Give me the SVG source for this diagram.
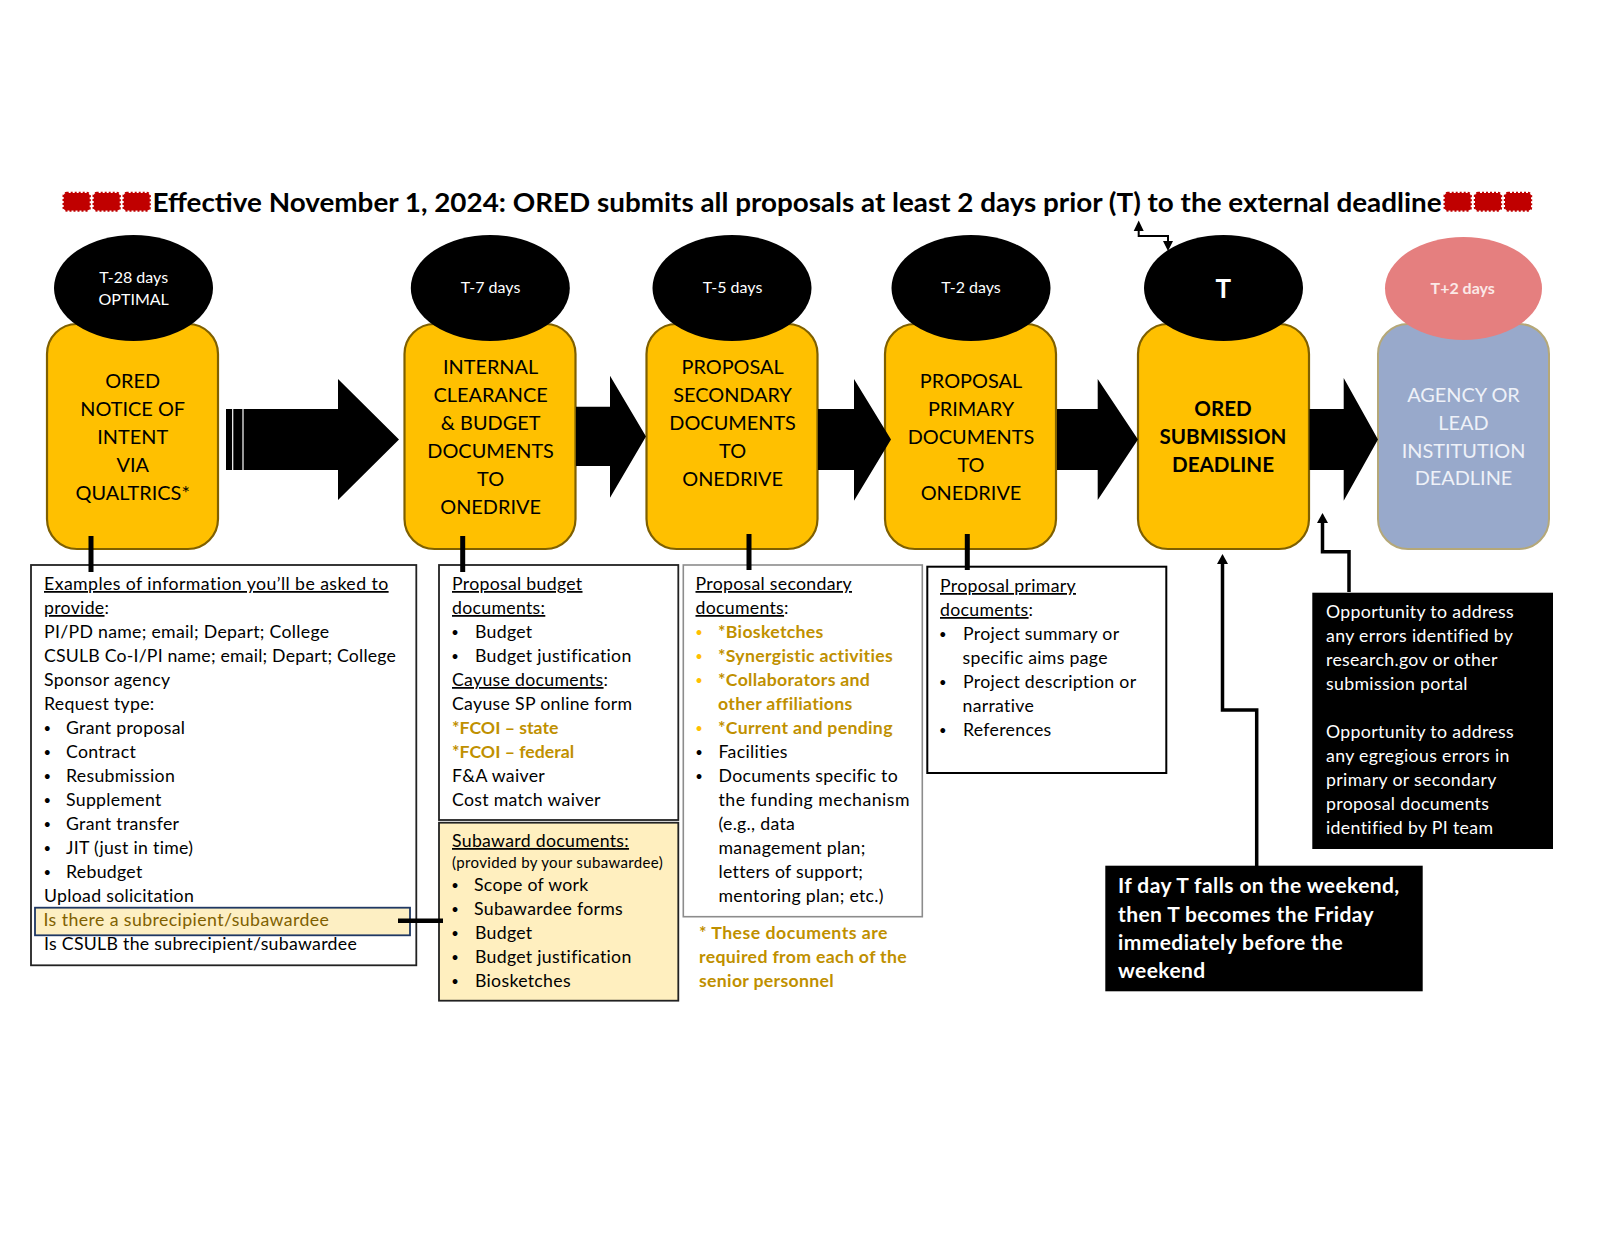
<svg xmlns="http://www.w3.org/2000/svg" xmlns:xlink="http://www.w3.org/1999/xlink" width="1600" height="1236" viewBox="0 0 1600 1236">
<style>
text{font-family:"Lato","Noto Sans",sans-serif}
.n{fill:#FFC000;stroke:#7F6000;stroke-width:2.2}
.h{font-size:19.9px;text-anchor:middle;fill:#000}
.hb{font-size:20.6px;font-weight:700;text-anchor:middle;fill:#000}
.e{font-size:16px;text-anchor:middle;fill:#fff}
.t{font-size:17.7px;fill:#000;letter-spacing:.3px}
.d{font-size:13px;fill:#000;text-anchor:middle}
.o{font-size:13px;fill:#FFC000;text-anchor:middle}
.g{font-size:17.7px;fill:#BF9000;font-weight:700;letter-spacing:.3px}
.w{font-size:17.7px;fill:#fff;letter-spacing:.35px}
.b{fill:#fff;stroke:#222;stroke-width:1.8}
.u{text-decoration:underline}
.c{fill:none;stroke:#000}
</style>
<defs>
<rect id="seal" x="-13" y="-8.8" width="26" height="17.6" rx="3" fill="#C00000" stroke="#C00000" stroke-width="2.4" stroke-dasharray="2 2"/>
</defs>
<rect width="1600" height="1236" fill="#fff"/>
<g id="title">
<use xlink:href="#seal" href="#seal" x="76.7" y="201.7"/><use xlink:href="#seal" href="#seal" x="106.7" y="201.7"/><use xlink:href="#seal" href="#seal" x="136.7" y="201.7"/>
<text x="152.5" y="211.5" font-size="26" font-weight="700" fill="#000" textLength="1289" lengthAdjust="spacingAndGlyphs">Effective November 1, 2024: ORED submits all proposals at least 2 days prior (T) to the external deadline</text>
<use xlink:href="#seal" href="#seal" x="1457.7" y="201.7"/><use xlink:href="#seal" href="#seal" x="1488" y="201.7"/><use xlink:href="#seal" href="#seal" x="1518" y="201.7"/>
</g>
<g id="node-1">
<rect class="n" x="47" y="324" width="171" height="225" rx="30"/>
<ellipse cx="133.5" cy="288" rx="79.5" ry="53" fill="#000"/>
<text class="e" x="133.7" y="283.3">T-28 days</text><text class="e" x="133.7" y="305">OPTIMAL</text>
<text class="h" x="132.7" y="388">ORED</text><text class="h" x="132.7" y="416">NOTICE OF</text><text class="h" x="132.7" y="444">INTENT</text><text class="h" x="132.7" y="472">VIA</text><text class="h" x="132.7" y="500">QUALTRICS*</text>
</g>
<g id="node-2">
<rect class="n" x="404.5" y="324" width="171" height="225" rx="30"/>
<ellipse cx="490.3" cy="288" rx="79.5" ry="53" fill="#000"/>
<text class="e" x="490.6" y="293.3">T-7 days</text>
<text class="h" x="490.6" y="374.3">INTERNAL</text><text class="h" x="490.6" y="402">CLEARANCE</text><text class="h" x="490.6" y="430">&amp; BUDGET</text><text class="h" x="490.6" y="458">DOCUMENTS</text><text class="h" x="490.6" y="486">TO</text><text class="h" x="490.6" y="514">ONEDRIVE</text>
</g>
<g id="node-3">
<rect class="n" x="646.5" y="324" width="171" height="225" rx="30"/>
<ellipse cx="732" cy="288" rx="79.5" ry="53" fill="#000"/>
<text class="e" x="732.6" y="293.3">T-5 days</text>
<text class="h" x="732.6" y="374.3">PROPOSAL</text><text class="h" x="732.6" y="402">SECONDARY</text><text class="h" x="732.6" y="430">DOCUMENTS</text><text class="h" x="732.6" y="458">TO</text><text class="h" x="732.6" y="486">ONEDRIVE</text>
</g>
<g id="node-4">
<rect class="n" x="885" y="324" width="171" height="225" rx="30"/>
<ellipse cx="971" cy="288" rx="79.5" ry="53" fill="#000"/>
<text class="e" x="971" y="293.3">T-2 days</text>
<text class="h" x="971" y="388">PROPOSAL</text><text class="h" x="971" y="416">PRIMARY</text><text class="h" x="971" y="444">DOCUMENTS</text><text class="h" x="971" y="472">TO</text><text class="h" x="971" y="500">ONEDRIVE</text>
</g>
<g id="node-5">
<rect class="n" x="1138" y="324" width="171" height="225" rx="30"/>
<ellipse cx="1223.5" cy="288" rx="79.5" ry="53" fill="#000"/>
<text x="1223.3" y="298" font-size="26" font-weight="700" text-anchor="middle" fill="#fff">T</text>
<text class="hb" x="1223" y="416">ORED</text><text class="hb" x="1223" y="444">SUBMISSION</text><text class="hb" x="1223" y="472">DEADLINE</text>
</g>
<g id="node-6">
<rect x="1378" y="324" width="171" height="225" rx="30" fill="#98A9CB" stroke="#B5A878" stroke-width="2"/>
<ellipse cx="1463.5" cy="288.5" rx="78.5" ry="51.5" fill="#E57F7F"/>
<text class="e" font-weight="700" x="1462.7" y="294" style="fill:#FBE9E7">T+2 days</text>
<text class="h" style="fill:#EEF1F8" x="1463.5" y="401.7">AGENCY OR</text><text class="h" style="fill:#EEF1F8" x="1463.5" y="429.5">LEAD</text><text class="h" style="fill:#EEF1F8" x="1463.5" y="457.5">INSTITUTION</text><text class="h" style="fill:#EEF1F8" x="1463.5" y="485">DEADLINE</text>
</g>
<g id="info-box">
<rect class="b" x="31" y="565" width="385.3" height="400.3"/>
<text class="t u" x="44" y="590" style="letter-spacing:.43px">Examples of information you’ll be asked to</text>
<text class="t" x="44" y="614"><tspan class="u">provide</tspan>:</text>
<text class="t" x="44" y="638">PI/PD name; email; Depart; College</text>
<text class="t" x="44" y="662" style="letter-spacing:.2px">CSULB Co-I/PI name; email; Depart; College</text>
<text class="t" x="44" y="686">Sponsor agency</text>
<text class="t" x="44" y="710">Request type:</text>
<text class="d" x="47.3" y="733">•</text><text class="t" x="66" y="734">Grant proposal</text>
<text class="d" x="47.3" y="757">•</text><text class="t" x="66" y="758">Contract</text>
<text class="d" x="47.3" y="781">•</text><text class="t" x="66" y="782">Resubmission</text>
<text class="d" x="47.3" y="805">•</text><text class="t" x="66" y="806">Supplement</text>
<text class="d" x="47.3" y="829">•</text><text class="t" x="66" y="830">Grant transfer</text>
<text class="d" x="47.3" y="853">•</text><text class="t" x="66" y="854">JIT (just in time)</text>
<text class="d" x="47.3" y="877">•</text><text class="t" x="66" y="878">Rebudget</text>
<text class="t" x="44" y="902">Upload solicitation</text>
<rect x="35" y="907.7" width="375" height="27.6" fill="#FDEFC3" stroke="#1F3864" stroke-width="1.8"/>
<text class="t" x="43.5" y="926" style="fill:#7F6000;letter-spacing:.42px">Is there a subrecipient/subawardee</text>
<text class="t" x="44" y="950">Is CSULB the subrecipient/subawardee</text>
</g>
<g id="budget-box">
<rect class="b" x="439" y="565" width="239.3" height="255"/>
<text class="t u" x="452" y="590">Proposal budget</text>
<text class="t u" x="452" y="614">documents:</text>
<text class="d" x="455" y="637">•</text><text class="t" x="475" y="638">Budget</text>
<text class="d" x="455" y="661">•</text><text class="t" x="475" y="662">Budget justification</text>
<text class="t" x="452" y="686"><tspan class="u">Cayuse documents</tspan>:</text>
<text class="t" x="452" y="710">Cayuse SP online form</text>
<text class="g" x="452" y="734" style="letter-spacing:0">*FCOI – state</text>
<text class="g" x="452" y="758" style="letter-spacing:0">*FCOI – federal</text>
<text class="t" x="452" y="782">F&amp;A waiver</text>
<text class="t" x="452" y="806">Cost match waiver</text>
</g>
<g id="subaward-box">
<rect x="439" y="822.7" width="239.3" height="178" fill="#FFEFBF" stroke="#222" stroke-width="1.8"/>
<text class="t u" x="452" y="847">Subaward documents:</text>
<text class="t" x="452" y="868" style="font-size:15px;letter-spacing:.35px">(provided by your subawardee)</text>
<text class="d" x="455" y="890">•</text><text class="t" x="474" y="891">Scope of work</text>
<text class="d" x="455" y="914">•</text><text class="t" x="474" y="915">Subawardee forms</text>
<text class="d" x="455" y="938">•</text><text class="t" x="475" y="939">Budget</text>
<text class="d" x="455" y="962">•</text><text class="t" x="475" y="963">Budget justification</text>
<text class="d" x="455" y="986">•</text><text class="t" x="475" y="987">Biosketches</text>
</g>
<g id="secondary-box">
<rect x="683.3" y="565" width="239" height="351.7" fill="#fff" stroke="#8c8c8c" stroke-width="1.6"/>
<text class="t u" x="695.5" y="590">Proposal secondary</text>
<text class="t" x="695.5" y="614"><tspan class="u">documents</tspan>:</text>
<text class="o" x="699" y="637">•</text><text class="g" x="718" y="638">*Biosketches</text>
<text class="o" x="699" y="661">•</text><text class="g" x="718" y="662">*Synergistic activities</text>
<text class="o" x="699" y="685">•</text><text class="g" x="718" y="686">*Collaborators and</text>
<text class="g" x="718" y="710">other affiliations</text>
<text class="o" x="699" y="733">•</text><text class="g" x="718" y="734">*Current and pending</text>
<text class="d" x="699" y="757">•</text><text class="t" x="718.5" y="758">Facilities</text>
<text class="d" x="699" y="781">•</text><text class="t" x="718.5" y="782">Documents specific to</text>
<text class="t" x="718.5" y="806" style="letter-spacing:.5px">the funding mechanism</text>
<text class="t" x="718.5" y="830">(e.g., data</text>
<text class="t" x="718.5" y="854">management plan;</text>
<text class="t" x="718.5" y="877.5">letters of support;</text>
<text class="t" x="718.5" y="901.5">mentoring plan; etc.)</text>
</g>
<g id="secondary-note">
<text class="g" x="699" y="939" style="letter-spacing:.48px">* These documents are</text>
<text class="g" x="699" y="963" style="letter-spacing:.33px">required from each of the</text>
<text class="g" x="699" y="987">senior personnel</text>
</g>
<g id="primary-box">
<rect x="927.3" y="566.7" width="239" height="206.3" fill="#fff" stroke="#000" stroke-width="2"/>
<text class="t u" x="940" y="592">Proposal primary</text>
<text class="t" x="940" y="616"><tspan class="u">documents</tspan>:</text>
<text class="d" x="942.7" y="639">•</text><text class="t" x="963" y="640">Project summary or</text>
<text class="t" x="962.5" y="664">specific aims page</text>
<text class="d" x="942.7" y="687">•</text><text class="t" x="963" y="688">Project description or</text>
<text class="t" x="962.5" y="712">narrative</text>
<text class="d" x="942.7" y="735">•</text><text class="t" x="963" y="736">References</text>
</g>
<g id="opportunity-note">
<rect x="1312.3" y="592.7" width="240.7" height="256.3" fill="#000"/>
<text class="w" x="1326" y="618">Opportunity to address</text>
<text class="w" x="1326" y="642">any errors identified by</text>
<text class="w" x="1326" y="666">research.gov or other</text>
<text class="w" x="1326" y="690">submission portal</text>
<text class="w" x="1326" y="738">Opportunity to address</text>
<text class="w" x="1326" y="762">any egregious errors in</text>
<text class="w" x="1326" y="786">primary or secondary</text>
<text class="w" x="1326" y="810">proposal documents</text>
<text class="w" x="1326" y="834">identified by PI team</text>
</g>
<g id="weekend-note">
<rect x="1105.3" y="865.7" width="317.4" height="125.6" fill="#000"/>
<g style="font-size:21px;font-weight:700;fill:#fff;letter-spacing:.4px">
<text x="1118" y="893.3">If day T falls on the weekend,</text>
<text x="1118" y="921.5">then T becomes the Friday</text>
<text x="1118" y="950">immediately before the</text>
<text x="1118" y="977.5">weekend</text>
</g>
</g>
<g id="connectors">
<path d="M226 409H338V379L399 439.5 338 500V470H226Z" fill="#000"/>
<path d="M232.7 408V471M243 408V471" stroke="#fff" stroke-width="1.2" fill="none"/>
<path d="M576 406.7H610V375.7L646 436.5 610 497.7V466H576Z" fill="#000"/>
<path d="M818 409H854V379L891 439.5 854 500.7V470H818Z" fill="#000"/>
<path d="M1057 409H1097.7V379L1138 439.5 1097.7 500V470H1057Z" fill="#000"/>
<path d="M1309.5 409H1343.7V378L1378 439.5 1343.7 500.7V470H1309.5Z" fill="#000"/>
<path class="c" stroke-width="2" d="M1138.7 228V236H1168V244"/>
<path d="M1138.7 220.5L1143.7 231H1133.7ZM1168 251L1163 241H1173Z" fill="#000"/>
<path class="c" stroke-width="3.5" d="M1222.5 562V710H1256.7V866"/>
<path d="M1222.5 554L1228 564H1217Z" fill="#000"/>
<path class="c" stroke-width="3.5" d="M1322.5 521V551.7H1349V592"/>
<path d="M1322.5 513L1328 523H1317Z" fill="#000"/>
<path class="c" stroke-width="5" d="M91 536V572M462.7 536V572M749 534V570M967.3 534V570"/>
<path class="c" stroke-width="4.5" d="M398 920.7H443"/>
</g>
</svg>
